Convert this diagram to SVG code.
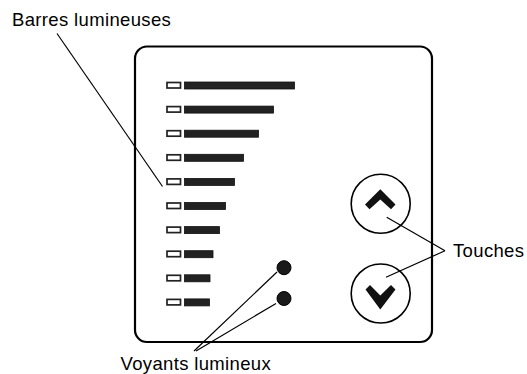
<svg xmlns="http://www.w3.org/2000/svg" width="527" height="374" viewBox="0 0 527 374">
<style>
.lbl{font-family:"Liberation Sans",Arial,sans-serif;font-size:18.5px;letter-spacing:0.35px;fill:#000}
.lead{stroke:#000;stroke-width:1.2;fill:none}
.led{fill:#fff;stroke:#222;stroke-width:1.7}
.bar{fill:#222;stroke:#111;stroke-width:0.8}
.dot{fill:#1a1a1a;stroke:#000;stroke-width:1}
.key{fill:none;stroke:#000;stroke-width:1.6}
.chev{fill:#111}
</style>
<rect width="527" height="374" fill="#fff"/>
<g id="panel">
<rect x="135" y="46.5" width="297" height="295.5" rx="12" ry="12" fill="none" stroke="#000" stroke-width="2.2"/>
</g>
<g id="barres">
<rect class="led" x="167" y="82.5" width="13.5" height="5.5"/><rect class="bar" x="184.5" y="82" width="110" height="7"/>
<rect class="led" x="167" y="106.6" width="13.5" height="5.5"/><rect class="bar" x="184.5" y="106.1" width="89" height="7"/>
<rect class="led" x="167" y="130.7" width="13.5" height="5.5"/><rect class="bar" x="184.5" y="130.2" width="74" height="7"/>
<rect class="led" x="167" y="154.8" width="13.5" height="5.5"/><rect class="bar" x="184.5" y="154.3" width="59" height="7"/>
<rect class="led" x="167" y="178.9" width="13.5" height="5.5"/><rect class="bar" x="184.5" y="178.4" width="50" height="7"/>
<rect class="led" x="167" y="203" width="13.5" height="5.5"/><rect class="bar" x="184.5" y="202.5" width="41" height="7"/>
<rect class="led" x="167" y="227.1" width="13.5" height="5.5"/><rect class="bar" x="184.5" y="226.6" width="35" height="7"/>
<rect class="led" x="167" y="251.2" width="13.5" height="5.5"/><rect class="bar" x="184.5" y="250.7" width="28.5" height="7"/>
<rect class="led" x="167" y="275.3" width="13.5" height="5.5"/><rect class="bar" x="184.5" y="274.8" width="25.5" height="7"/>
<rect class="led" x="167" y="299.4" width="13.5" height="5.5"/><rect class="bar" x="184.5" y="298.9" width="25" height="7"/>
</g>
<g id="voyants">
<circle class="dot" cx="284" cy="267.7" r="7"/>
<circle class="dot" cx="284" cy="298.5" r="7"/>
</g>
<g id="touche-haut">
<circle class="key" cx="380.7" cy="203.7" r="29.5"/>
<polygon class="chev" points="365,204.5 380.3,189.3 395.5,204.5 391,209.3 380.3,199.5 369.5,209.3"/>
</g>
<g id="touche-bas">
<circle class="key" cx="380.7" cy="293.5" r="29.5"/>
<polygon class="chev" points="365.5,289.5 370,285 380.3,295.5 391,285 395.5,289.5 380.3,309.5"/>
</g>
<g id="connectors">
<line class="lead" x1="57" y1="33.5" x2="162.5" y2="186.5"/>
<line class="lead" x1="386.7" y1="217.3" x2="445" y2="250.7"/>
<line class="lead" x1="386" y1="277.3" x2="445" y2="250.7"/>
<line class="lead" x1="194" y1="351" x2="277" y2="272"/>
<line class="lead" x1="196" y1="351" x2="276" y2="303.5"/>
</g>
<g id="labels">
<text class="lbl" x="12" y="26">Barres lumineuses</text>
<text class="lbl" x="453" y="257">Touches</text>
<text class="lbl" x="120.5" y="369.5">Voyants lumineux</text>
</g>
</svg>
